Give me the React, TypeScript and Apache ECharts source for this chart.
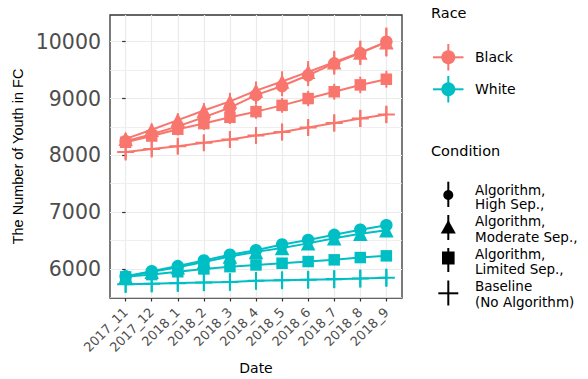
import React, { useEffect, useRef } from "react";
import * as echarts from "echarts";

const dates = ["2017_11", "2017_12", "2018_1", "2018_2", "2018_3", "2018_4", "2018_5", "2018_6", "2018_7", "2018_8", "2018_9"];

// Black youth
const blackHigh = [8250, 8370, 8510, 8670, 8840, 9060, 9220, 9410, 9620, 9800, 10000];
const blackModerate = [8290, 8450, 8620, 8790, 8950, 9140, 9300, 9470, 9640, 9810, 9990];
const blackLimited = [8230, 8340, 8460, 8560, 8670, 8770, 8880, 9000, 9120, 9240, 9340];
const blackBaseline = [8060, 8110, 8160, 8220, 8280, 8350, 8410, 8490, 8570, 8650, 8720];
const blackHighErr = [100, 110, 120, 130, 150, 160, 180, 190, 200, 210, 250];
const blackModerateErr = [100, 110, 120, 130, 150, 160, 180, 190, 200, 210, 250];
const blackLimitedErr = [100, 105, 110, 115, 120, 125, 130, 135, 140, 145, 150];
const blackBaselineErr = [130, 132, 135, 137, 140, 142, 145, 147, 150, 152, 155];

// White youth
const whiteHigh = [5870, 5960, 6050, 6150, 6250, 6330, 6430, 6510, 6600, 6690, 6770];
const whiteModerate = [5860, 5950, 6030, 6120, 6220, 6300, 6370, 6450, 6540, 6620, 6680];
const whiteLimited = [5860, 5900, 5950, 6000, 6040, 6070, 6100, 6130, 6160, 6200, 6230];
const whiteBaseline = [5730, 5740, 5750, 5760, 5770, 5790, 5800, 5810, 5820, 5830, 5845];
const whiteHighErr = [60, 65, 70, 75, 80, 85, 90, 95, 100, 105, 110];
const whiteModerateErr = [60, 65, 70, 75, 80, 85, 90, 95, 100, 105, 110];
const whiteLimitedErr = [60, 62, 65, 67, 70, 72, 75, 77, 80, 82, 85];
const whiteBaselineErr = [150, 150, 152, 152, 155, 155, 157, 157, 160, 160, 160];

const yMajor = [6000, 7000, 8000, 9000, 10000];
const yMinor = [5500, 6500, 7500, 8500, 9500];
const yMin = 5488;
const yMax = 10471;

const COLORS: Record<string, string> = { Black: "#F8766D", White: "#00BFC4" };
const PLUS = "path://M-1.2,-10H1.2V-1.2H10V1.2H1.2V10H-1.2V1.2H-10V-1.2H-1.2Z";

const conditionStyles = [
  { key: "High", symbol: "circle", size: 12.5 },
  { key: "Moderate", symbol: "triangle", size: 14.5 },
  { key: "Limited", symbol: "rect", size: 11.5 },
  { key: "Baseline", symbol: PLUS, size: 17 },
];

const groups = [
  { race: "Black", vals: [blackHigh, blackModerate, blackLimited, blackBaseline], errs: [blackHighErr, blackModerateErr, blackLimitedErr, blackBaselineErr] },
  { race: "White", vals: [whiteHigh, whiteModerate, whiteLimited, whiteBaseline], errs: [whiteHighErr, whiteModerateErr, whiteLimitedErr, whiteBaselineErr] },
];

const FONT = "DejaVu Sans";

export default function App() {
  const ref = useRef<HTMLDivElement>(null);
  useEffect(() => {
    if (!ref.current) return;
    const chart = echarts.init(ref.current, null, { renderer: "svg" });
    const xIdx = dates.map((_, i) => i);

    const series: any[] = [];
    series.push({
      type: "line",
      data: [],
      silent: true,
      z: 0,
      markLine: {
        silent: true,
        symbol: "none",
        label: { show: false },
        z: 0,
        lineStyle: { color: "#EBEBEB", width: 0.8, type: "solid" },
        data: yMinor.map((v) => ({ yAxis: v })),
      },
    });

    groups.forEach((g) => {
      const color = COLORS[g.race];
      conditionStyles.forEach((c, ci) => {
        const vals = g.vals[ci];
        const errs = g.errs[ci];
        series.push({
          type: "line",
          name: g.race + " " + c.key,
          data: vals.map((v, i) => [i, v]),
          symbol: c.symbol,
          symbolSize: c.size,
          showSymbol: true,
          lineStyle: { color, width: 2 },
          itemStyle: { color, borderWidth: 0 },
          z: 3,
        });
        series.push({
          type: "custom",
          name: g.race + " " + c.key + " err",
          data: vals.map((v, i) => [i, v - errs[i], v + errs[i]]),
          encode: { x: 0, y: [1, 2] },
          z: 4,
          renderItem: (params: any, api: any) => {
            const x = api.value(0);
            const p1 = api.coord([x, api.value(1)]);
            const p2 = api.coord([x, api.value(2)]);
            return {
              type: "line",
              shape: { x1: p1[0], y1: p1[1], x2: p2[0], y2: p2[1] },
              style: { stroke: color, lineWidth: 2 },
            };
          },
        });
      });
    });

    const legendX = 448.3;
    const black = "#000000";
    const graphic: any[] = [
      { type: "text", x: 431, y: 13, style: { text: "Race", font: `14.5px "${FONT}"`, fill: black, verticalAlign: "middle" } },
      { type: "line", shape: { x1: 433, y1: 57.3, x2: 463.5, y2: 57.3 }, style: { stroke: COLORS.Black, lineWidth: 2 } },
      { type: "line", shape: { x1: legendX, y1: 44, x2: legendX, y2: 70.5 }, style: { stroke: COLORS.Black, lineWidth: 2 } },
      { type: "circle", shape: { cx: legendX, cy: 57.3, r: 7 }, style: { fill: COLORS.Black } },
      { type: "text", x: 475, y: 57.3, style: { text: "Black", font: `14px "${FONT}"`, fill: black, verticalAlign: "middle" } },
      { type: "line", shape: { x1: 433, y1: 89.3, x2: 463.5, y2: 89.3 }, style: { stroke: COLORS.White, lineWidth: 2 } },
      { type: "line", shape: { x1: legendX, y1: 76, x2: legendX, y2: 102.5 }, style: { stroke: COLORS.White, lineWidth: 2 } },
      { type: "circle", shape: { cx: legendX, cy: 89.3, r: 7 }, style: { fill: COLORS.White } },
      { type: "text", x: 475, y: 89.3, style: { text: "White", font: `14px "${FONT}"`, fill: black, verticalAlign: "middle" } },

      { type: "text", x: 431, y: 151, style: { text: "Condition", font: `14.5px "${FONT}"`, fill: black, verticalAlign: "middle" } },
      { type: "line", shape: { x1: legendX, y1: 181.7, x2: legendX, y2: 207 }, style: { stroke: black, lineWidth: 2 } },
      { type: "circle", shape: { cx: legendX, cy: 195, r: 5 }, style: { fill: black } },
      { type: "text", x: 475, y: 189.5, style: { text: "Algorithm,", font: `13.5px "${FONT}"`, fill: black, verticalAlign: "middle" } },
      { type: "text", x: 475, y: 204, style: { text: "High Sep.,", font: `13.5px "${FONT}"`, fill: black, verticalAlign: "middle" } },
      { type: "line", shape: { x1: legendX, y1: 215, x2: legendX, y2: 240 }, style: { stroke: black, lineWidth: 2 } },
      { type: "polygon", shape: { points: [[legendX, 220], [440.8, 233.5], [455.8, 233.5]] }, style: { fill: black } },
      { type: "text", x: 475, y: 221, style: { text: "Algorithm,", font: `13.5px "${FONT}"`, fill: black, verticalAlign: "middle" } },
      { type: "text", x: 475, y: 237, style: { text: "Moderate Sep.,", font: `13.5px "${FONT}"`, fill: black, verticalAlign: "middle" } },
      { type: "line", shape: { x1: legendX, y1: 248, x2: legendX, y2: 272 }, style: { stroke: black, lineWidth: 2 } },
      { type: "rect", shape: { x: 442, y: 251.5, width: 12.6, height: 13 }, style: { fill: black } },
      { type: "text", x: 475, y: 253.5, style: { text: "Algorithm,", font: `13.5px "${FONT}"`, fill: black, verticalAlign: "middle" } },
      { type: "text", x: 475, y: 269, style: { text: "Limited Sep.,", font: `13.5px "${FONT}"`, fill: black, verticalAlign: "middle" } },
      { type: "line", shape: { x1: 438.3, y1: 293.3, x2: 458.3, y2: 293.3 }, style: { stroke: black, lineWidth: 2 } },
      { type: "line", shape: { x1: legendX, y1: 280.5, x2: legendX, y2: 305.5 }, style: { stroke: black, lineWidth: 2 } },
      { type: "text", x: 475, y: 285.5, style: { text: "Baseline", font: `13.5px "${FONT}"`, fill: black, verticalAlign: "middle" } },
      { type: "text", x: 475, y: 301.5, style: { text: "(No Algorithm)", font: `13.5px "${FONT}"`, fill: black, verticalAlign: "middle" } },
    ];

    const option: any = {
      animation: false,
      backgroundColor: "#ffffff",
      grid: {
        left: 110,
        right: 186,
        top: 15,
        bottom: 81,
        show: true,
        borderColor: "#333333",
        borderWidth: 1.3,
        backgroundColor: "transparent",
        containLabel: false,
        outerBoundsMode: "none",
      },
      xAxis: {
        type: "value",
        min: -0.6,
        max: 10.6,
        axisLine: { show: false },
        axisTick: { show: true, length: 3.5, lineStyle: { color: "#333333", width: 1.2 }, customValues: xIdx },
        axisLabel: {
          customValues: xIdx,
          formatter: (v: number) => dates[Math.round(v)] ?? "",
          rotate: 45,
          margin: 12,
          fontFamily: FONT,
          fontSize: 13,
          color: "#4D4D4D",
        },
        splitLine: { show: true, lineStyle: { color: "#EBEBEB", width: 1.2 } },
        name: "Date",
        nameLocation: "middle",
        nameGap: 62,
        nameTextStyle: { fontFamily: FONT, fontSize: 14, color: "#000000" },
      },
      yAxis: {
        type: "value",
        min: yMin,
        max: yMax,
        axisLine: { show: false },
        axisTick: { show: true, length: 3.5, lineStyle: { color: "#333333", width: 1.2 }, customValues: yMajor },
        axisLabel: {
          customValues: yMajor,
          formatter: (v: number) => String(Math.round(v)),
          margin: 9,
          fontFamily: FONT,
          fontSize: 20.5,
          color: "#4D4D4D",
        },
        splitLine: { show: true, lineStyle: { color: "#EBEBEB", width: 1.2 } },
        name: "The Number of Youth in FC",
        nameLocation: "middle",
        nameGap: 85,
        nameRotate: 90,
        nameTextStyle: { fontFamily: "Liberation Sans", fontSize: 14.5, color: "#000000" },
      },
      series,
      graphic,
    };
    chart.setOption(option);
    return () => chart.dispose();
  }, []);
  return <div ref={ref} style={{ position: "absolute", left: 0, top: 0, width: 588, height: 379, background: "#fff" }} />;
}
